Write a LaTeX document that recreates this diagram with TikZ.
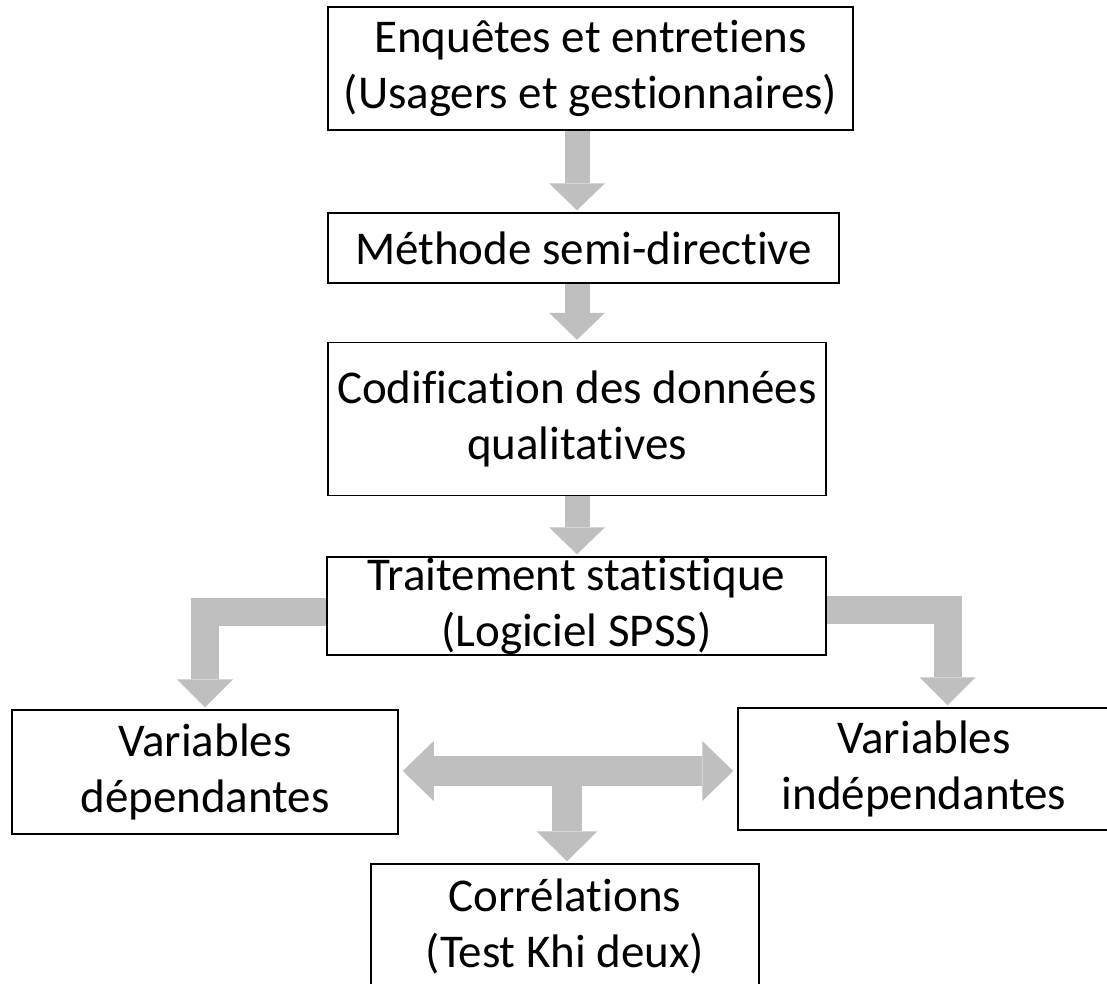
\documentclass[tikz,border=0pt]{standalone}
\usepackage{fontspec}
\setmainfont{Carlito}[Ligatures=NoCommon]
\usetikzlibrary{arrows.meta, positioning, calc}
\definecolor{arrowgray}{RGB}{191,191,191}
\tikzset{box/.style = {
  % Rectangle:
  rectangle,
  draw=black, line width=1.5pt,
  fill=white,
  inner sep=0pt,
  % Text
  text centered, align=center,
  font=\fontsize{47}{56}\selectfont
  }}
\tikzset{fat/.style = {
  draw=arrowgray,
  line width=25pt,
  -{Triangle[length=27pt, width=56pt, line width=0pt]},
  shorten >= 2pt
  }}
\tikzset{elbow/.style = {
  fat,
  line width=28pt,
  -{Triangle[length=28pt, width=56pt, line width=0pt]}
  }}
\tikzset{wide/.style = {
  fat,
  line width=30pt,
  {Triangle[length=31pt, width=60pt, line width=0pt]}-{Triangle[length=31pt, width=60pt, line width=0pt]},
  shorten <= 4pt, shorten >= 4pt
  }}

\begin{document}
\begin{tikzpicture}[x=1pt, y=-1pt]
\clip (0,0) rectangle (1107,983);

% NODES
\node (enquetes) [box, minimum width=525pt, minimum height=123pt] at (590.5,68.5) {Enquêtes et entretiens\\(Usagers et gestionnaires)};
\node (methode) [box, minimum width=511pt, minimum height=70pt] at (583.5,248) {Méthode semi-directive};
\node (codif) [box, minimum width=498pt, minimum height=153pt] at (577,419) {Codification des données\\qualitatives};
\node (traitement) [box, minimum width=499pt, minimum height=98pt] at (576.5,606) {Traitement statistique\\(Logiciel SPSS)};

\node (dep) [box, minimum width=386pt, minimum height=124pt] at (205,772) {Variables\\dépendantes};
\node (indep) [box, minimum width=372pt, minimum height=122pt] at (924,769) {Variables\\indépendantes};

\node (correl) [box, minimum width=388pt, minimum height=124pt] at (565,926) {Corrélations\\(Test Khi deux)};

\coordinate (axe) at (577,0);
\coordinate (droite) at (947.5,0);
\coordinate (centre) at (567,771);

% arrows
\draw [fat] (enquetes.south -| axe) -- (methode.north -| axe);
\draw [fat] (methode.south -| axe) -- (codif.north -| axe);
\draw [fat] (codif.south -| axe) -- (traitement.north -| axe);

\draw [elbow] ([yshift=-6pt]traitement.west) -| (dep.north);
\draw [elbow] ([yshift=-4pt]traitement.east) -| (indep.north -| droite);

\draw [wide] (dep.east |- centre) -- (indep.west |- centre);
\draw [fat, line width=30pt, -{Triangle[length=30pt, width=61pt, line width=0pt]}] (centre) -- (correl.north -| centre);
\end{tikzpicture}
\end{document}
